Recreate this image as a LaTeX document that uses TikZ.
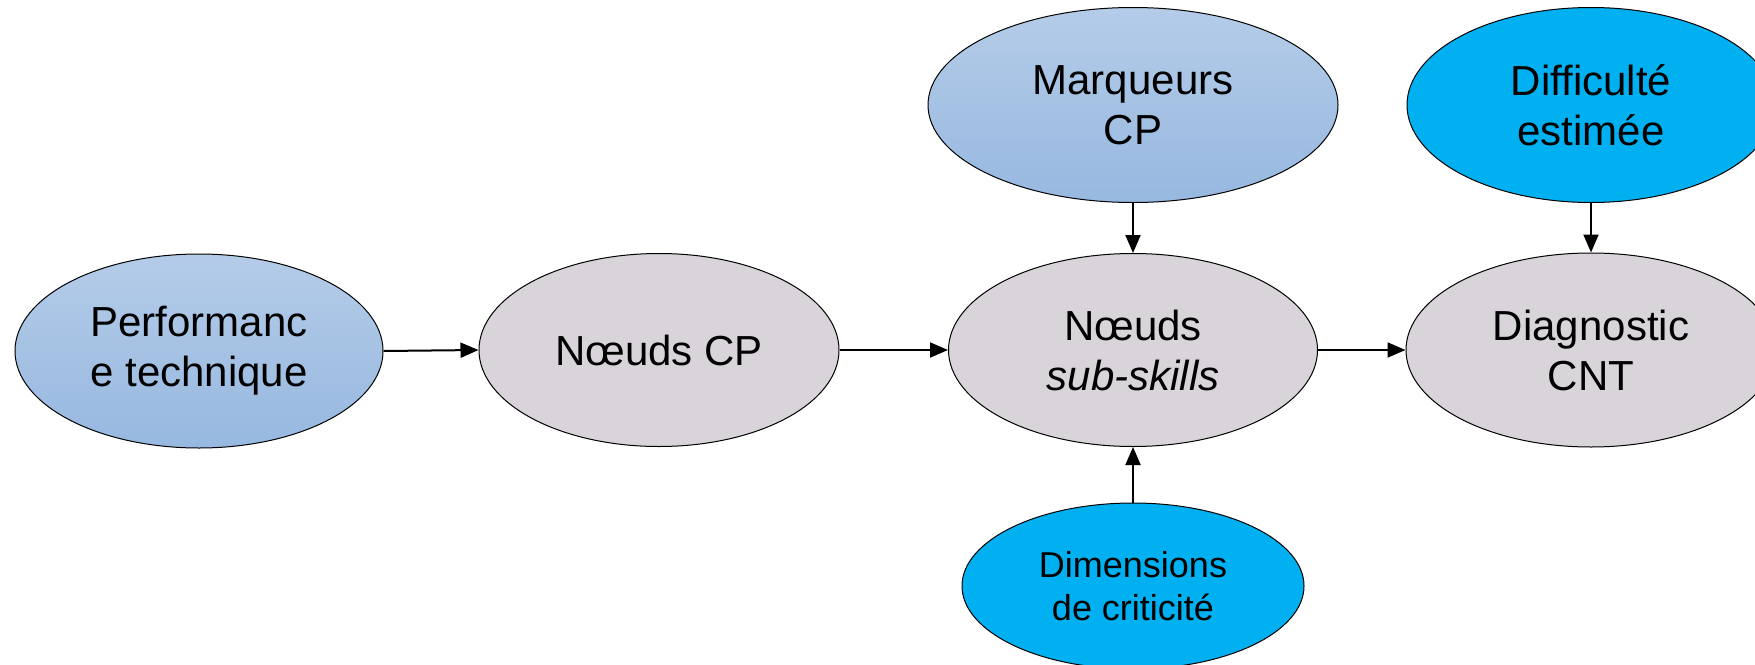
\documentclass[tikz,border=0pt]{standalone}
\usepackage{fontspec}
\setmainfont{Liberation Sans}
\usepackage{tikz}
\usetikzlibrary{shapes}
\usetikzlibrary{arrows.meta}

\definecolor{grisnoeud}{HTML}{D8D4DA}
\definecolor{bleuhaut}{HTML}{B4CCE8}
\definecolor{bleubas}{HTML}{97B8E0}
\definecolor{bleuvif}{HTML}{00B0F0}

\begin{document}
\begin{tikzpicture}[x=0.5pt, y=-0.5pt,
    noeud/.style={ellipse, draw, line width=0.5pt, inner sep=0pt, align=center,
        font=\fontsize{21}{25}\selectfont},
    gris/.style={noeud, fill=grisnoeud},
    degrade/.style={noeud, top color=bleuhaut, bottom color=bleubas},
    vif/.style={noeud, fill=bleuvif},
    fleche/.style={line width=1pt, -{Triangle[length=9pt, width=7.5pt]}}]
    \useasboundingbox (0,0) rectangle (1755,664);
    \clip (0,0) rectangle (1755,664);

        \node[degrade, minimum width=184pt, minimum height=97pt] (perf) at (199,351) {Performanc\\e technique};
        \node[gris, minimum width=180pt, minimum height=96.5pt] (cp) at (659,350) {Nœuds CP};
        \node[gris, minimum width=184.5pt, minimum height=96.5pt] (sub) at (1133,350) {Nœuds\\\textit{sub-skills}};
        \node[gris, minimum width=185pt, minimum height=97pt] (diag) at (1591,350) {Diagnostic\\CNT};

        \node[degrade, minimum width=205pt, minimum height=97.5pt] (marq) at (1133,105) {Marqueurs\\CP};
        \node[vif, minimum width=184pt, minimum height=97.5pt] (diff) at (1591,105) {Difficulté\\estimée};
        \node[vif, minimum width=171pt, minimum height=83pt, font=\fontsize{18}{21.5}\selectfont] (dim) at (1133,586) {Dimensions\\de criticité};

        \draw[fleche] (perf.east) -- (cp.west);
        \draw[fleche] (cp.east) -- (sub.west);
        \draw[fleche] (sub.east) -- (diag.west);
        \draw[fleche] (marq.south) -- (sub.north);
        \draw[fleche] (diff.south) -- (diag.north);
        \draw[fleche] (dim.north) -- (sub.south);
    \end{tikzpicture}
\end{document}
